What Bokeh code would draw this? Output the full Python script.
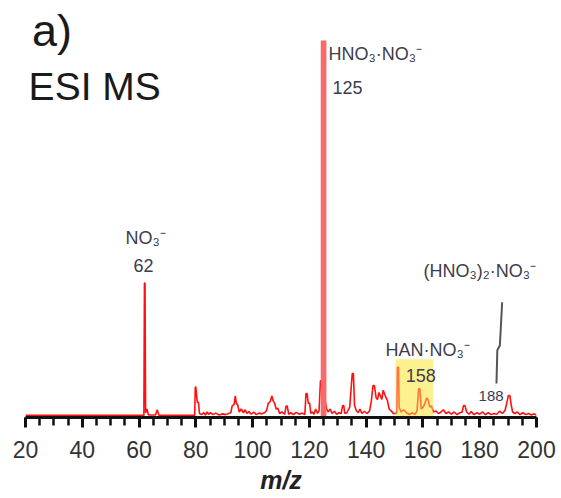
import numpy as np
from bokeh.plotting import figure
from bokeh.models import Range1d, FixedTicker
from bokeh.core.properties import value
from bokeh.embed import file_html
from bokeh.resources import INLINE

# ---------------- spectrum (m/z, relative intensity %) ----------------
mz_a = [20.0, 61.7, 61.9, 62.1, 62.3, 62.8, 63.3, 65.8, 66.4, 67.0]
in_a = [0.3, 0.3, 35.5, 35.5, 1.0, 2.0, 0.4, 0.4, 1.8, 0.3]

mz_b = [79.6, 79.8, 80.0, 80.5, 80.9, 81.3, 82.0, 82.8, 83.4, 84.0, 84.5, 85.2, 86.0, 87.0, 88.2, 89.5, 90.5, 91.5]
in_b = [0.3, 7.8, 7.8, 3.8, 3.8, 0.8, 0.5, 1.0, 0.4, 1.2, 0.6, 1.0, 0.5, 0.9, 0.4, 0.7, 0.5, 0.8]

mz_c = [92.3, 92.8, 93.5, 93.9, 94.3, 94.7, 95.3, 96.0, 96.8, 97.4, 98.0, 98.7, 99.5, 100.4, 101.3, 102.2, 103.2, 104.2]
in_c = [1.0, 2.8, 3.2, 5.5, 3.4, 3.2, 1.2, 2.0, 1.0, 1.8, 0.8, 1.3, 0.6, 1.2, 0.5, 0.9, 0.7, 1.0]

mz_d = [104.9, 105.5, 106.2, 106.8, 107.2, 107.8, 108.3, 108.9, 109.5, 110.3,
        111.3, 111.8, 112.2, 112.7, 113.4, 114.4, 115.3, 116.5, 117.5, 118.4,
        118.8, 119.2, 119.6, 120.1, 120.5, 121.0, 121.6, 122.2, 122.9]
in_d = [1.5, 3.5, 4.0, 5.5, 4.2, 3.4, 2.0, 2.2, 0.8, 1.2,
        0.6, 2.8, 2.8, 0.6, 1.0, 0.5, 1.1, 0.6, 0.9, 0.5,
        6.1, 6.1, 3.5, 3.5, 0.8, 1.2, 0.6, 2.0, 0.8]

mz_e = [123.4, 123.9, 124.4, 125.0, 125.6, 126.1, 126.6, 127.3, 128.0, 128.8, 129.6, 130.4]
in_e = [1.5, 9.5, 9.5, 9.5, 4.0, 2.0, 1.2, 2.0, 0.8, 1.4, 0.6, 1.0]

mz_f = [131.2, 131.7, 132.1, 132.5, 133.2, 134.2, 134.7, 135.1, 135.5, 135.9,
        136.5, 137.2, 137.8, 138.5, 139.4, 140.3, 141.2]
in_f = [0.8, 2.9, 2.9, 0.8, 1.0, 2.5, 7.4, 11.4, 11.4, 3.0,
        1.6, 1.0, 2.0, 0.8, 1.4, 0.8, 1.5]

mz_g = [141.8, 142.4, 142.9, 143.5, 144.0, 144.5, 145.0, 145.5, 146.0, 146.5,
        147.0, 147.5, 148.1, 148.8, 149.6, 150.3]
in_g = [4.0, 8.2, 8.2, 5.0, 4.5, 6.4, 5.5, 4.5, 7.0, 6.0,
        5.0, 4.2, 2.0, 1.5, 0.8, 0.8]

mz_h = [150.8, 151.0, 151.4, 151.6, 152.3, 153.2, 154.2, 155.2, 156.2, 157.2,
        157.9, 158.5, 158.9, 159.4, 160.1, 160.7, 161.3, 161.8, 162.4, 163.0, 163.7]
in_h = [1.0, 13.1, 13.1, 2.5, 1.2, 1.8, 1.0, 0.5, 1.0, 0.6,
        1.5, 7.4, 7.4, 2.0, 2.5, 3.5, 4.9, 4.5, 2.5, 2.8, 1.2]

mz_i = [164.5, 165.5, 166.4, 167.2, 168.1, 169.0, 170.0, 171.0, 172.0, 173.0,
        173.8, 174.3, 174.8, 175.4, 176.2, 177.0, 178.0, 179.0, 180.0, 181.0,
        182.0, 183.0, 184.0, 185.0, 186.0, 187.0, 188.0, 188.9, 189.5, 190.1,
        190.6, 191.1, 191.6, 192.3, 193.2, 194.2, 195.2, 196.2, 197.2, 198.2,
        199.2, 200.0]
in_i = [1.5, 0.8, 1.2, 1.8, 0.8, 1.2, 0.6, 1.2, 0.5, 1.0,
        1.2, 2.9, 2.9, 1.2, 0.6, 1.3, 0.5, 1.0, 0.6, 1.2,
        0.5, 1.0, 0.5, 0.8, 0.6, 1.4, 0.8, 1.6, 3.5, 5.6,
        5.6, 3.0, 1.2, 0.8, 1.2, 0.5, 1.0, 0.5, 0.8, 0.4,
        0.7, 0.3]

mz = mz_a + mz_b + mz_c + mz_d + mz_e + mz_f + mz_g + mz_h + mz_i
intensity = in_a + in_b + in_c + in_d + in_e + in_f + in_g + in_h + in_i
assert len(mz) == len(intensity)

# base peak drawn as a stick
base_mz = [125]
base_int = [100.0]

# highlighted HAN region
band_start = [150.3]
band_end = [163.6]
band_top = [15.2]

# annotations
ion_labels = ["NO\u2083\u207b", "HNO\u2083\u00b7NO\u2083\u207b", "HAN\u00b7NO\u2083\u207b", "(HNO\u2083)\u2082\u00b7NO\u2083\u207b"]
mass_labels = ["62", "125", "158", "188"]

x_ticks = list(range(20, 201, 20))
x_minor = list(range(20, 201, 5))

p = figure(width=561, height=498, x_range=Range1d(20, 200), y_range=Range1d(-0.266, 110.64),
           output_backend="svg", toolbar_location=None, y_axis_location=None,
           min_border_left=25, min_border_right=25, min_border_top=0, min_border_bottom=81)
p.outline_line_color = None
p.xgrid.visible = False
p.ygrid.visible = False
p.background_fill_color = "white"

p.quad(left=band_start, right=band_end, bottom=[0] * len(band_top), top=band_top,
       fill_color="#fbf3a0", line_color=None, fill_alpha=1.0)
p.line(mz, intensity, line_color="#ff1010", line_width=1.6)
p.quad(left=band_start, right=band_end, bottom=[0] * len(band_top), top=band_top,
       fill_color="#fff07a", line_color=None, fill_alpha=0.45)
p.vbar(x=base_mz, top=base_int, bottom=0, width=2.0, fill_color="#f86a6a", line_color=None)

# leader line for 188
p.line([187.9, 187.1, 186.2, 185.9], [30.4, 18.9, 17.6, 8.8], line_color="#555555", line_width=2)

font = value("Liberation Sans")
lab_col = "#3c3c4c"
mid = "middle"
# NO3- / 62 (centered)
p.text(x=[62.3], y=[47.6], text=[ion_labels[0]], text_font=font, text_font_size="18px",
       text_color=lab_col, text_align="center", text_baseline=mid)
p.text(x=[61.6], y=[40.2], text=[mass_labels[0]], text_font=font, text_font_size="18px",
       text_color=lab_col, text_align="center", text_baseline=mid)
# left aligned labels
p.text(x=[126.7, 146.8, 160.2], y=[96.3, 17.6, 38.8], text=ion_labels[1:], text_font=font,
       text_font_size="18px", text_color=lab_col, text_align="left", text_baseline=mid)
p.text(x=[128.1, 153.9], y=[87.5, 10.9], text=mass_labels[1:3], text_font=font,
       text_font_size="18px", text_color=lab_col, text_align="left", text_baseline=mid)
p.text(x=[179.6], y=[5.5], text=[mass_labels[3]], text_font=font,
       text_font_size="15px", text_color=lab_col, text_align="left", text_baseline=mid)

# panel texts
p.text(x=[22.3], y=[102.7], text=["a)"], text_font=font, text_font_size="45px",
       text_color="#1a1a1a", text_align="left", text_baseline=mid)
p.text(x=[21.1], y=[87.9], text=["ESI MS"], text_font=font, text_font_size="39px",
       text_color="#1a1a1a", text_align="left", text_baseline=mid)

ax = p.xaxis[0]
ax.ticker = FixedTicker(ticks=x_ticks, minor_ticks=x_minor)
ax.axis_line_width = 3
ax.axis_line_color = "#111111"
ax.major_tick_line_width = 3
ax.major_tick_line_color = "#111111"
ax.major_tick_in = 0
ax.major_tick_out = 10
ax.minor_tick_line_width = 2.5
ax.minor_tick_line_color = "#111111"
ax.minor_tick_in = 0
ax.minor_tick_out = 8
ax.major_label_text_font = "Liberation Sans"
ax.major_label_text_font_size = "23px"
ax.major_label_text_color = "#333333"
ax.major_label_standoff = 13
ax.axis_label = "m/z"
ax.axis_label_text_font = "Liberation Sans"
ax.axis_label_text_font_style = "bold italic"
ax.axis_label_text_font_size = "25px"
ax.axis_label_text_color = "#222222"
ax.axis_label_standoff = 5

open("out.html", "w").write(file_html(p, INLINE))
